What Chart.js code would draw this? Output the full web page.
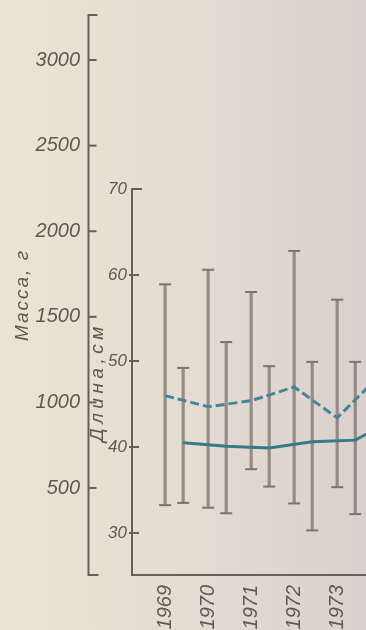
<!DOCTYPE html>
<html>
<head>
<meta charset="utf-8">
<script src="https://cdn.jsdelivr.net/npm/chart.js@4.4.1/dist/chart.umd.min.js"></script>
<style>
  html, body { margin: 0; padding: 0; }
  body {
    width: 366px; height: 630px; overflow: hidden;
    background: linear-gradient(to right, #ece3d4 0%, #e7ded3 38%, #dbd1cc 100%);
  }
  #wrap { position: relative; width: 366px; height: 630px; }
</style>
</head>
<body>
<div id="wrap"><canvas id="c" width="366" height="630"></canvas></div>
<script>
// Годы наблюдений
const years = [1969, 1970, 1971, 1972, 1973];
// Средние значения (последняя точка — 1974 г., уходит за край поля)
const trendYears = [1969, 1970, 1971, 1972, 1973, 1974];
const massMean = [1040, 975, 1010, 1090, 910, 1160];
const lengthMean = [40.5, 40.1, 39.9, 40.6, 40.8, 43.5];
// Пределы колебаний (мин. – макс.)
const massMin = [400, 385, 610, 410, 505];
const massMax = [1690, 1775, 1645, 1885, 1600];
const lengthMin = [33.5, 32.3, 35.4, 30.3, 32.2];
const lengthMax = [49.2, 52.2, 49.4, 49.9, 49.9];
// Деления шкал
const massTicks = [500, 1000, 1500, 2000, 2500, 3000];
const lengthTicks = [30, 40, 50, 60, 70];
const yearTicks = [1969, 1970, 1971, 1972, 1973];

// длина показана рядом с массой, со сдвигом вправо внутри года
const lengthShift = 0.42;

const INK = '#675f5a';
const TEXT = '#5f5853';
const FONT = '"Liberation Sans", Arial, sans-serif';

const pts = (xs, ys, dx = 0) => ys.map((v, i) => ({ x: xs[i] + dx, y: v }));
const ranges = (lo, hi, dx = 0) => years.map((y, i) => ({ x: y + dx, y: [lo[i], hi[i]] }));

const axesAndCaps = {
  id: 'axesAndCaps',
  beforeDatasetsDraw(chart) {
    const { ctx, chartArea, scales } = chart;
    const m = scales.yMass, l = scales.yLen;
    ctx.save();
    ctx.strokeStyle = INK;
    ctx.lineWidth = 2;
    ctx.lineCap = 'butt';
    ctx.lineJoin = 'miter';

    // шкала массы
    const mx = m.right - 0.5;
    const mTop = m.getPixelForValue(m.max);
    const mBot = m.getPixelForValue(m.min);
    ctx.beginPath();
    ctx.moveTo(mx + 9, mTop); ctx.lineTo(mx, mTop);
    ctx.lineTo(mx, mBot); ctx.lineTo(mx + 10, mBot);
    ctx.stroke();
    massTicks.forEach(v => {
      const y = m.getPixelForValue(v);
      ctx.beginPath(); ctx.moveTo(mx, y); ctx.lineTo(mx + 8, y); ctx.stroke();
    });

    // шкала длины
    const lx = l.right;
    const lTop = l.getPixelForValue(lengthTicks[lengthTicks.length - 1]);
    ctx.beginPath();
    ctx.moveTo(lx + 10, lTop); ctx.lineTo(lx, lTop); ctx.lineTo(lx, chartArea.bottom);
    ctx.stroke();
    lengthTicks.slice(0, -1).forEach(v => {
      const y = l.getPixelForValue(v);
      ctx.beginPath(); ctx.moveTo(lx - 3, y); ctx.lineTo(lx + 7, y); ctx.stroke();
    });
    ctx.restore();
  },
  afterDatasetsDraw(chart) {
    const { ctx } = chart;
    ctx.save();
    ctx.strokeStyle = '#7b736e';
    ctx.lineWidth = 2;
    chart.data.datasets.forEach((ds, i) => {
      if (!ds.caps) return;
      chart.getDatasetMeta(i).data.forEach(el => {
        [el.y, el.base].forEach(y => {
          ctx.beginPath(); ctx.moveTo(el.x - 6, y); ctx.lineTo(el.x + 6, y); ctx.stroke();
        });
      });
    });
    ctx.restore();
  },
  afterDraw(chart) {
    const { ctx, chartArea, scales } = chart;
    const m = scales.yMass, l = scales.yLen;
    ctx.save();
    ctx.fillStyle = TEXT;
    ctx.textAlign = 'center';
    ctx.textBaseline = 'middle';

    ctx.save();
    ctx.font = 'italic 19px ' + FONT;
    if ('letterSpacing' in ctx) ctx.letterSpacing = '2px';
    ctx.translate(m.left + 23, (chartArea.top + chartArea.bottom) / 2);
    ctx.rotate(-Math.PI / 2);
    ctx.fillText('Масса, г', 0, 0);
    ctx.restore();

    ctx.save();
    ctx.font = 'italic 19px ' + FONT;
    if ('letterSpacing' in ctx) ctx.letterSpacing = '4.5px';
    const lTop = l.getPixelForValue(lengthTicks[lengthTicks.length - 1]);
    ctx.translate(l.left + 9, (lTop + chartArea.bottom) / 2);
    ctx.rotate(-Math.PI / 2);
    ctx.fillText('Длина,см', 0, 0);
    ctx.restore();

    ctx.restore();
  }
};

new Chart(document.getElementById('c'), {
  type: 'bar',
  data: {
    datasets: [
      {
        type: 'line', label: 'Масса',
        data: pts(trendYears, massMean),
        yAxisID: 'yMass',
        borderColor: '#41869a', borderWidth: 3, borderDash: [9, 4],
        pointRadius: 0, tension: 0, order: 0
      },
      {
        type: 'line', label: 'Длина',
        data: pts(trendYears, lengthMean, lengthShift),
        yAxisID: 'yLen',
        borderColor: '#337b86', borderWidth: 3,
        pointRadius: 0, tension: 0, order: 0
      },
      {
        label: 'Масса: мин–макс', caps: true,
        data: ranges(massMin, massMax),
        yAxisID: 'yMass',
        backgroundColor: 'rgba(128,120,115,0.8)',
        barThickness: 2.5, grouped: false, order: 1
      },
      {
        label: 'Длина: мин–макс', caps: true,
        data: ranges(lengthMin, lengthMax, lengthShift),
        yAxisID: 'yLen',
        backgroundColor: 'rgba(128,120,115,0.8)',
        barThickness: 2.5, grouped: false, order: 1
      }
    ]
  },
  options: {
    responsive: false,
    devicePixelRatio: 1,
    animation: false,
    layout: { padding: { top: 15, left: 0, right: 0, bottom: 0 } },
    plugins: { legend: { display: false }, tooltip: { enabled: false } },
    scales: {
      x: {
        type: 'linear', position: 'bottom', offset: false,
        min: 1968.23, max: 1973.67,
        grid: { display: false, drawTicks: false, offset: false },
        border: { display: true, color: INK, width: 2 },
        afterBuildTicks: s => { s.ticks = yearTicks.map(v => ({ value: v })); },
        afterFit: s => { s.height = 55; s.paddingLeft = 0; s.paddingRight = 0; },
        ticks: {
          autoSkip: false, minRotation: 90, maxRotation: 90, padding: 10,
          color: TEXT, font: { family: FONT, size: 20, style: 'italic' },
          callback: v => String(v)
        }
      },
      yMass: {
        type: 'linear', position: 'left', weight: 2,
        min: -8, max: 3263,
        grid: { display: false, drawTicks: false },
        border: { display: false },
        afterBuildTicks: s => { s.ticks = massTicks.map(v => ({ value: v })); },
        afterFit: s => { s.width = 89; s.paddingTop = 0; s.paddingBottom = 0; },
        ticks: {
          padding: 9, color: TEXT,
          font: { family: FONT, size: 20, style: 'italic' },
          callback: v => String(v)
        }
      },
      yLen: {
        type: 'linear', position: 'left', weight: 1,
        min: 25.12, max: 90.23,
        grid: { display: false, drawTicks: false },
        border: { display: false },
        afterBuildTicks: s => { s.ticks = lengthTicks.map(v => ({ value: v })); },
        afterFit: s => { s.width = 43; s.paddingTop = 0; s.paddingBottom = 0; },
        ticks: {
          padding: 5, color: TEXT,
          font: { family: FONT, size: 17, style: 'italic' },
          callback: v => String(v)
        }
      }
    }
  },
  plugins: [axesAndCaps]
});
</script>
</body>
</html>
